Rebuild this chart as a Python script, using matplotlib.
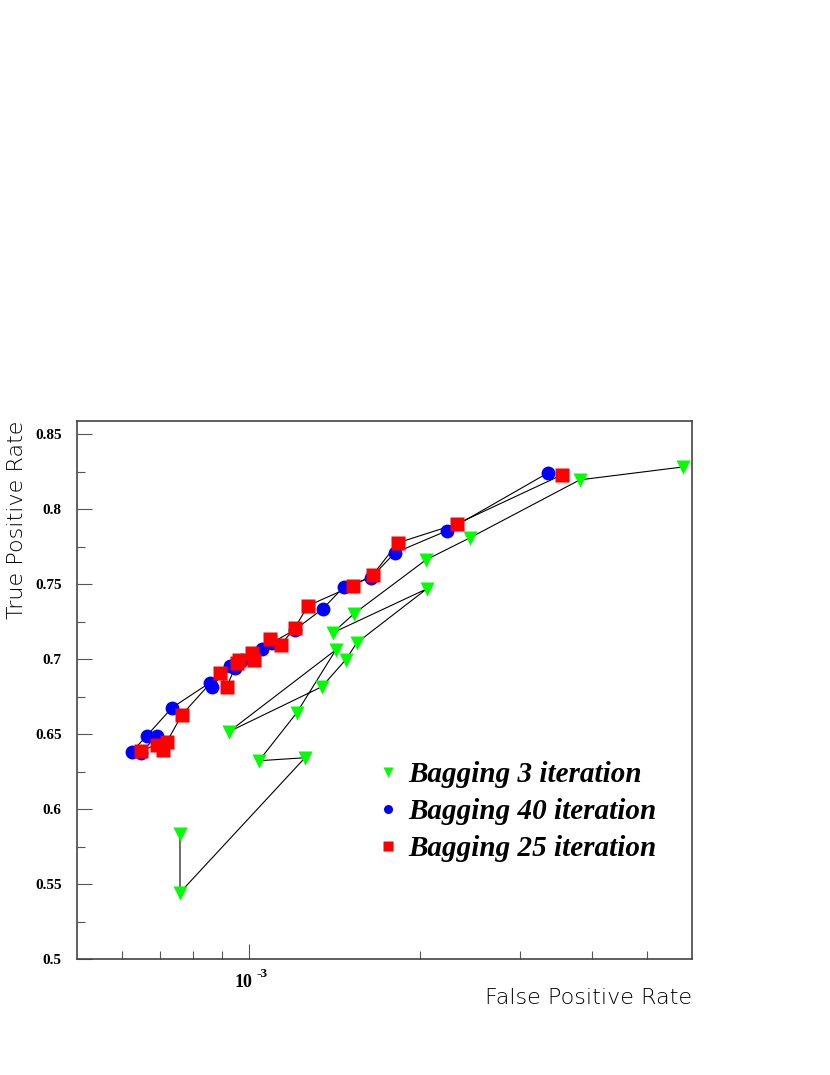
import matplotlib
matplotlib.use('Agg')
import matplotlib.pyplot as plt
from matplotlib.lines import Line2D
from matplotlib.ticker import FixedLocator, FixedFormatter, NullFormatter

# Bagging 3 iterations (drawn in this order)
fpr_3 = [0.000758, 0.000758, 0.001256, 0.001043, 0.001215, 0.001423, 0.000924,
         0.001345, 0.001481, 0.001549, 0.002055, 0.001406, 0.001530, 0.002047,
         0.002445, 0.003813, 0.005780]
tpr_3 = [0.5837, 0.5443, 0.6343, 0.6323, 0.6643, 0.7063, 0.6517,
         0.6817, 0.6997, 0.7110, 0.7470, 0.7177, 0.7303, 0.7663,
         0.7810, 0.8197, 0.8283]

# Bagging 40 iterations
fpr_40 = [0.003351, 0.002228, 0.001806, 0.001639, 0.001470, 0.001350, 0.001206,
          0.001099, 0.001055, 0.000973, 0.000946, 0.000927, 0.000862, 0.000855,
          0.000734, 0.000663, 0.000624, 0.000647, 0.000691]
tpr_40 = [0.8243, 0.7857, 0.7710, 0.7543, 0.7483, 0.7337, 0.7197,
          0.7110, 0.7070, 0.6997, 0.6943, 0.6957, 0.6817, 0.6843,
          0.6677, 0.6490, 0.6383, 0.6377, 0.6490]

# Bagging 25 iterations
fpr_25 = [0.003545, 0.002320, 0.001828, 0.001652, 0.001524, 0.001271, 0.001206,
          0.001139, 0.001090, 0.001022, 0.001013, 0.000962, 0.000954, 0.000916,
          0.000890, 0.000764, 0.000719, 0.000707, 0.000691, 0.000647]
tpr_25 = [0.8230, 0.7903, 0.7777, 0.7563, 0.7490, 0.7357, 0.7210,
          0.7097, 0.7137, 0.6997, 0.7043, 0.6997, 0.6977, 0.6817,
          0.6910, 0.6630, 0.6450, 0.6397, 0.6430, 0.6390]

labels = ['Bagging 3 iteration', 'Bagging 40 iteration', 'Bagging 25 iteration']
colors = ['#00ff00', '#0000ff', '#ff0000']

fig = plt.figure(figsize=(8.3, 10.75), dpi=100)
ax = fig.add_axes([0.0928, 0.1079, 0.7409, 0.5005])

ax.plot(fpr_3, tpr_3, color='black', lw=0.8, zorder=2)
ax.plot(fpr_40, tpr_40, color='black', lw=0.8, zorder=2)
ax.plot(fpr_25, tpr_25, color='black', lw=0.8, zorder=2)
ax.plot(fpr_3, tpr_3, 'v', color=colors[0], ms=10, mec='none', zorder=3)
ax.plot(fpr_40, tpr_40, 'o', color=colors[1], ms=10, mec='none', zorder=3)
ax.plot(fpr_25, tpr_25, 's', color=colors[2], ms=9.5, mec='none', zorder=4)

ax.set_xscale('log')
ax.set_xlim(5e-4, 6e-3)
ax.set_ylim(0.5, 0.859)

ax.xaxis.set_major_locator(FixedLocator([1e-3]))
ax.xaxis.set_major_formatter(NullFormatter())
ax.xaxis.set_minor_locator(FixedLocator([6e-4, 7e-4, 8e-4, 9e-4, 2e-3, 3e-3, 4e-3, 5e-3]))
ax.xaxis.set_minor_formatter(NullFormatter())

# 10^-3 label drawn by hand, ROOT style
ax.annotate('10', xy=(1e-3, 0), xycoords=('data', 'axes fraction'), xytext=(2.5, -20.5),
            textcoords='offset points', ha='right', va='baseline',
            family='Liberation Serif', weight='bold', fontsize=13)
ax.annotate('-3', xy=(1e-3, 0), xycoords=('data', 'axes fraction'), xytext=(5.5, -13),
            textcoords='offset points', ha='left', va='baseline',
            family='Liberation Serif', weight='bold', fontsize=9.5)

yt = [0.5, 0.55, 0.6, 0.65, 0.7, 0.75, 0.8, 0.85]
ax.yaxis.set_major_locator(FixedLocator(yt))
ax.yaxis.set_major_formatter(FixedFormatter(['0.5', '0.55', '0.6', '0.65', '0.7', '0.75', '0.8', '0.85']))
ax.yaxis.set_minor_locator(FixedLocator([0.525, 0.575, 0.625, 0.675, 0.725, 0.775, 0.825]))

ax.tick_params(which='major', direction='in', length=11, width=0.8, color='#555555',
               top=False, right=False, pad=11)
ax.tick_params(which='minor', direction='in', length=5.5, width=0.8, color='#555555',
               top=False, right=False)
for t in ax.get_yticklabels():
    t.set_fontfamily('Liberation Serif')
    t.set_fontweight('bold')
    t.set_fontsize(11)

for s in ax.spines.values():
    s.set_linewidth(1.2)
    s.set_color('#444444')

ax.set_xlabel('False Positive Rate', loc='right', fontsize=16, family='DejaVu Sans',
              fontweight='light')
ax.xaxis.set_label_coords(1.0, -0.054)
ax.set_ylabel('True Positive Rate', loc='top', fontsize=16, family='DejaVu Sans',
              fontweight='light')
ax.yaxis.set_label_coords(-0.081, 1.0)

handles = [Line2D([], [], marker=m, color=c, ls='none', ms=6.5, mec='none')
           for m, c in zip(['v', 'o', 's'], colors)]
ax.legend(handles, labels, loc='upper left', bbox_to_anchor=(0.4506, 0.2919),
          bbox_transform=fig.transFigure, frameon=False, borderpad=0, borderaxespad=0,
          handlelength=0.95, handletextpad=0.22, labelspacing=0.34,
          prop={'family': 'Liberation Serif', 'style': 'italic', 'weight': 'bold', 'size': 21})

fig.savefig('out.png', dpi=100)
